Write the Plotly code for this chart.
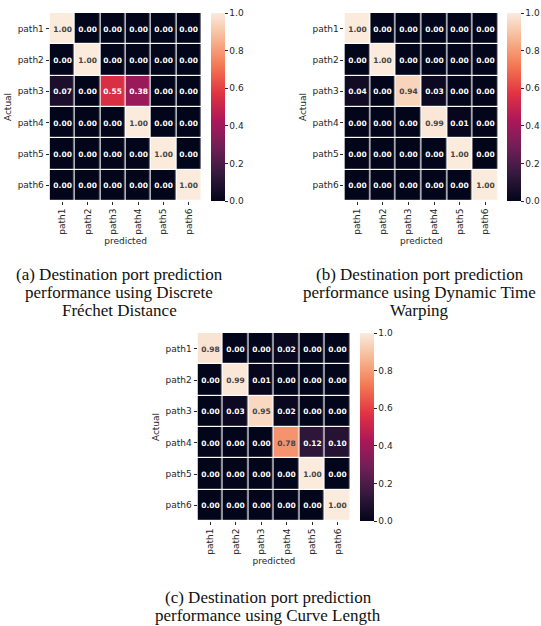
import plotly.graph_objects as go

W, H = 541, 626

labels = ["path1", "path2", "path3", "path4", "path5", "path6"]

frechet = [
    [1.00, 0.00, 0.00, 0.00, 0.00, 0.00],
    [0.00, 1.00, 0.00, 0.00, 0.00, 0.00],
    [0.07, 0.00, 0.55, 0.38, 0.00, 0.00],
    [0.00, 0.00, 0.00, 1.00, 0.00, 0.00],
    [0.00, 0.00, 0.00, 0.00, 1.00, 0.00],
    [0.00, 0.00, 0.00, 0.00, 0.00, 1.00],
]
dtw = [
    [1.00, 0.00, 0.00, 0.00, 0.00, 0.00],
    [0.00, 1.00, 0.00, 0.00, 0.00, 0.00],
    [0.04, 0.00, 0.94, 0.03, 0.00, 0.00],
    [0.00, 0.00, 0.00, 0.99, 0.01, 0.00],
    [0.00, 0.00, 0.00, 0.00, 1.00, 0.00],
    [0.00, 0.00, 0.00, 0.00, 0.00, 1.00],
]
curve_len = [
    [0.98, 0.00, 0.00, 0.02, 0.00, 0.00],
    [0.00, 0.99, 0.01, 0.00, 0.00, 0.00],
    [0.00, 0.03, 0.95, 0.02, 0.00, 0.00],
    [0.00, 0.00, 0.00, 0.78, 0.12, 0.10],
    [0.00, 0.00, 0.00, 0.00, 1.00, 0.00],
    [0.00, 0.00, 0.00, 0.00, 0.00, 1.00],
]

captions = [
    ["(a) Destination port prediction", "performance using Discrete", "Fréchet Distance"],
    ["(b) Destination port prediction", "performance using Dynamic Time", "Warping"],
    ["(c) Destination port prediction", "performance using Curve Length"],
]

rocket = [
    [0.0, "#03051A"],
    [1/7, "#35193E"],
    [2/7, "#701F57"],
    [3/7, "#AD1759"],
    [4/7, "#E13342"],
    [5/7, "#F37651"],
    [6/7, "#F6B48F"],
    [1.0, "#FAEBDD"],
]

# pixel layout boxes: heatmap x0, x1, y0(top), y1(bottom), colorbar left x,
# caption center x, first caption line center y
panels = [
    dict(data=frechet, x0=50, x1=203, y0=13, y1=201, cb=213, cx=120, cy=274),
    dict(data=dtw, x0=347, x1=502, y0=13, y1=201, cb=511, cx=423, cy=274),
    dict(data=curve_len, x0=199, x1=353, y0=333, y1=521, cb=363, cx=270, cy=597),
]
LINE_H = 18

fig = go.Figure()
tick_font = dict(family="DejaVu Sans", size=9, color="#262626")

for i, p in enumerate(panels):
    sfx = "" if i == 0 else str(i + 1)
    xa, ya = "x" + sfx, "y" + sfx
    cbar_y = 1 - (p["y0"] + p["y1"]) / 2 / H
    fig.add_trace(go.Heatmap(
        z=p["data"], x=labels, y=labels,
        xaxis=xa, yaxis=ya,
        colorscale=rocket, zmin=0, zmax=1,
        xgap=1.2, ygap=1.2,
        texttemplate="%{z:.2f}",
        textfont=dict(family="DejaVu Sans", size=7.5, weight="bold"),
        hoverinfo="skip",
        colorbar=dict(
            x=p["cb"] / W, xanchor="left", xpad=0, ypad=0,
            y=cbar_y, yanchor="middle",
            len=p["y1"] - p["y0"], lenmode="pixels",
            thickness=14, thicknessmode="pixels",
            outlinewidth=0,
            tickvals=[0, 0.2, 0.4, 0.6, 0.8, 1.0], tickformat=".1f",
            ticks="outside", ticklen=3, tickwidth=0.8, tickcolor="#262626",
            tickfont=tick_font,
        ),
    ))
    xkey = "xaxis" + sfx
    ykey = "yaxis" + sfx
    fig.update_layout(**{
        xkey: dict(
            domain=[p["x0"] / W, p["x1"] / W], anchor=ya,
            tickangle=-90, ticks="outside", ticklen=3, tickwidth=0.8, tickcolor="#262626",
            tickfont=tick_font, showgrid=False, zeroline=False, showline=False,
            title=dict(text="predicted", font=tick_font, standoff=3),
            fixedrange=True,
        ),
        ykey: dict(
            domain=[1 - p["y1"] / H, 1 - p["y0"] / H], anchor=xa,
            autorange="reversed", ticks="outside", ticklen=3, tickwidth=0.8, tickcolor="#262626",
            tickfont=tick_font, showgrid=False, zeroline=False, showline=False,
            title=dict(text="Actual", font=tick_font, standoff=4),
            fixedrange=True,
        ),
    })
    for j, line in enumerate(captions[i]):
        fig.add_annotation(
            text=line, x=p["cx"] / W, y=1 - (p["cy"] + j * LINE_H) / H,
            xref="paper", yref="paper", xanchor="center", yanchor="middle",
            showarrow=False, align="center",
            font=dict(family="Liberation Serif", size=17, color="#111111"),
        )

fig.update_layout(
    width=W, height=H,
    margin=dict(l=0, r=0, t=0, b=0),
    paper_bgcolor="white", plot_bgcolor="white",
    showlegend=False,
)

fig.write_html(
    "out.html",
    config={"displayModeBar": False},
    post_script="document.body.style.margin='0';document.body.style.overflow='hidden';",
)
